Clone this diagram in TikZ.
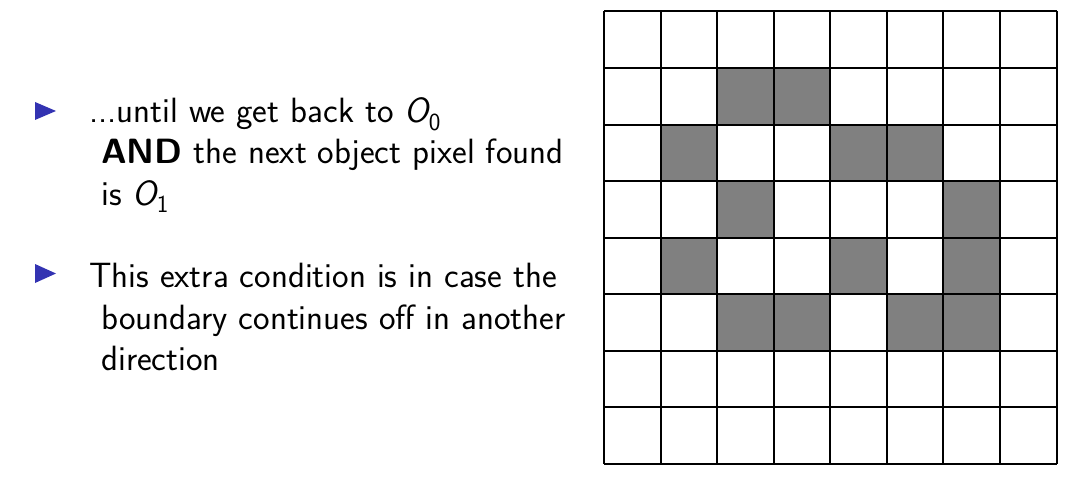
\documentclass[tikz,border=0pt]{standalone}
\usepackage{amsmath}
\definecolor{bulletblue}{RGB}{51,51,178}
\definecolor{cellgray}{RGB}{128,128,128}
\begin{document}
\begin{tikzpicture}[x=1pt,y=-1pt,
  txt/.style={anchor=base west,inner sep=0pt,font=\sffamily\fontsize{35.1}{41.5}\selectfont},
  bul/.style={fill=bulletblue,draw=none},
  cell/.style={fill=cellgray,draw=none},
  gridline/.style={line width=2pt,black}]
\useasboundingbox (0,0) rectangle (1068,492);
% bullets
\fill[bul] (35,102) -- (56,111) -- (35,120) -- cycle;
\fill[bul] (35,264) -- (56,273.5) -- (35,283) -- cycle;
% text
\node[txt] (l1) at (89,122.5) {...until we get back to \(\textsl{O}_{\textsf{0}}\)};
\node[txt] (l2) at (101,163.5) {\textbf{AND} the next object pixel found};
\node[txt] (l3) at (101,205) {is \(\textsl{O}_{\textsf{1}}\)};
\node[txt] (m1) at (89,287.5) {This extra condition is in case the};
\node[txt] (m2) at (101,329) {boundary continues off in another};
\node[txt] (m3) at (101,370) {direction};
% grid cells
\def\cs{56.5625}
\foreach \r/\c in {1/2,1/3,2/1,2/4,2/5,3/2,3/6,4/1,4/4,4/6,5/2,5/3,5/5,5/6}
  \fill[cell] ({604+\c*\cs},{11.5+\r*\cs}) rectangle ++(\cs,\cs);
\foreach \i in {0,...,8} {
  \draw[gridline] ({604+\i*\cs},11.5) -- ({604+\i*\cs},464);
  \draw[gridline] (604,{11.5+\i*\cs}) -- (1056.5,{11.5+\i*\cs});
}
\end{tikzpicture}
\end{document}
